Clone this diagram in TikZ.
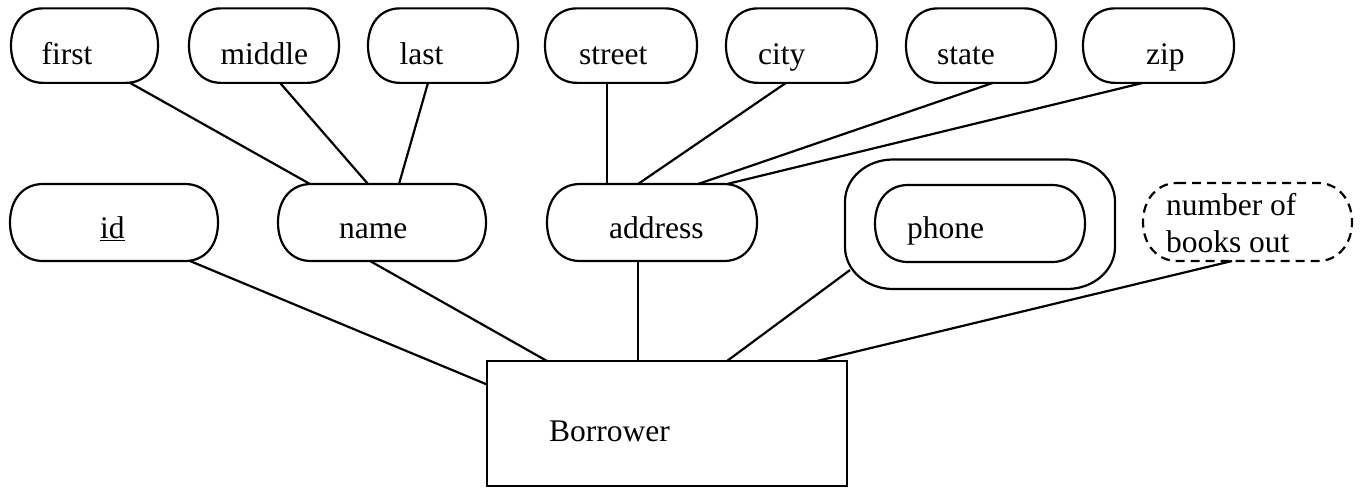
\documentclass[tikz,border=0pt]{standalone}
\usepackage{fontspec}
\setmainfont{Liberation Serif}
\usetikzlibrary{calc}
% rounded rectangle with elliptical corners
\newcommand\rshape[4][]{%
  \draw[#1] let \p1=(#2.north west), \p2=(#2.south east) in
  (\x1+#3pt,\y1) -- (\x2-#3pt,\y1)
  arc[start angle=90,end angle=0,x radius=#3pt,y radius=#4pt] -- (\x2,\y2+#4pt)
  arc[start angle=0,end angle=-90,x radius=#3pt,y radius=#4pt] -- (\x1+#3pt,\y2)
  arc[start angle=270,end angle=180,x radius=#3pt,y radius=#4pt] -- (\x1,\y1-#4pt)
  arc[start angle=180,end angle=90,x radius=#3pt,y radius=#4pt] -- cycle;}
% pill with rounded ends: #3 end width, #4 = 1-k
\newcommand\sshape[4][]{%
  \draw[#1] let \p1=(#2.north west), \p2=(#2.south east) in
  (\x1+#3pt,\y1) -- (\x2-#3pt,\y1)
  .. controls (\x2-#4*#3pt,\y1) and (\x2,\y1-#4*0.5*\y1+#4*0.5*\y2) .. (\x2,0.5*\y1+0.5*\y2)
  .. controls (\x2,\y2+#4*0.5*\y1-#4*0.5*\y2) and (\x2-#4*#3pt,\y2) .. (\x2-#3pt,\y2)
  -- (\x1+#3pt,\y2)
  .. controls (\x1+#4*#3pt,\y2) and (\x1,\y2+#4*0.5*\y1-#4*0.5*\y2) .. (\x1,0.5*\y1+0.5*\y2)
  .. controls (\x1,\y1-#4*0.5*\y1+#4*0.5*\y2) and (\x1+#4*#3pt,\y1) .. cycle;}
\begin{document}
\begin{tikzpicture}[x=1pt,y=-1pt,line width=2.2pt,
  attrbox/.style={rectangle,draw=none,inner sep=0pt,outer sep=0pt},
  txt/.style={anchor=base west,inner sep=0pt,font=\fontsize{31.5}{37}\selectfont},
  entbox/.style={rectangle,draw,inner sep=0pt,outer sep=0pt},
  dashline/.style={dash pattern=on 9pt off 6pt}]
\useasboundingbox (0,0) rectangle (1362,488);
% top row
\node[attrbox,minimum width=147pt,minimum height=74.5pt] (first) at (84.5,45.6) {};
\node[attrbox,minimum width=150pt,minimum height=74.5pt] (middle) at (264,45.6) {};
\node[attrbox,minimum width=150pt,minimum height=74.5pt] (last) at (443,45.6) {};
\node[attrbox,minimum width=152pt,minimum height=74.5pt] (street) at (621,45.6) {};
\node[attrbox,minimum width=151pt,minimum height=74.5pt] (city) at (801.5,45.6) {};
\node[attrbox,minimum width=150pt,minimum height=74.5pt] (state) at (981,45.6) {};
\node[attrbox,minimum width=151pt,minimum height=74.5pt] (zip) at (1158.5,45.6) {};
\foreach \nm in {first,middle,last,street,city,state,zip}{\sshape{\nm}{32}{0.4}}
\node[txt] (tfirst) at (40.5,64) {first};
\node[txt] (tmiddle) at (219.6,64) {middle};
\node[txt] (tlast) at (398.6,64) {last};
\node[txt] (tstreet) at (578,64) {street};
\node[txt] (tcity) at (757,64) {city};
\node[txt] (tstate) at (936,64) {state};
\node[txt] (tzip) at (1145,64) {zip};
% middle row
\node[attrbox,minimum width=208pt,minimum height=77pt] (id) at (114,222.5) {};
\node[attrbox,minimum width=208pt,minimum height=77pt] (name) at (382,222.5) {};
\node[attrbox,minimum width=210pt,minimum height=77pt] (address) at (652,222.5) {};
\node[attrbox,minimum width=270pt,minimum height=129.5pt] (phoneo) at (980,224.25) {};
\node[attrbox,minimum width=210pt,minimum height=77pt] (phone) at (980,223.5) {};
\node[attrbox,minimum width=209pt,minimum height=78pt] (number) at (1247.5,222) {};
\foreach \nm in {id,name,address,phone}{\sshape{\nm}{33}{0.4}}
\rshape{phoneo}{48}{42}
\sshape[dashline]{number}{34}{0.42}
\node[txt] (tid) at (99,238) {\underline{id}};
\node[txt] (tname) at (338,238) {name};
\node[txt] (taddress) at (608,238) {address};
\node[txt] (tphone) at (906,238) {phone};
\node[txt] (tnum1) at (1165,215) {number of};
\node[txt] (tnum2) at (1165,252) {books out};
% entity
\node[entbox,minimum width=360pt,minimum height=125pt] (B) at (667,423.5) {};
\node[txt] (tB) at (548,441) {Borrower};
% connectors
\draw ([xshift=45.5pt]first.south) -- ([xshift=-72pt]name.north);
\draw ([xshift=16pt]middle.south) -- ([xshift=-14pt]name.north);
\draw ([xshift=-15pt]last.south) -- ([xshift=17pt]name.north);
\draw ([xshift=-14pt]street.south) -- ([xshift=-45pt]address.north);
\draw ([xshift=-15.5pt]city.south) -- ([xshift=-14pt]address.north);
\draw ([xshift=12pt]state.south) -- ([xshift=46pt]address.north);
\draw ([xshift=-15.5pt]zip.south) -- ([xshift=75pt]address.north);
\draw ([xshift=76pt]id.south) -- ([yshift=39pt]B.west);
\draw ([xshift=-12pt]name.south) -- ([xshift=-120pt]B.north);
\draw ([xshift=-14pt]address.south) -- ([xshift=-29pt]B.north);
\draw ([xshift=5pt,yshift=19pt]phoneo.south west) -- ([xshift=60pt]B.north);
\draw ([xshift=-15.5pt]number.south) -- ([xshift=150pt]B.north);
\end{tikzpicture}
\end{document}
